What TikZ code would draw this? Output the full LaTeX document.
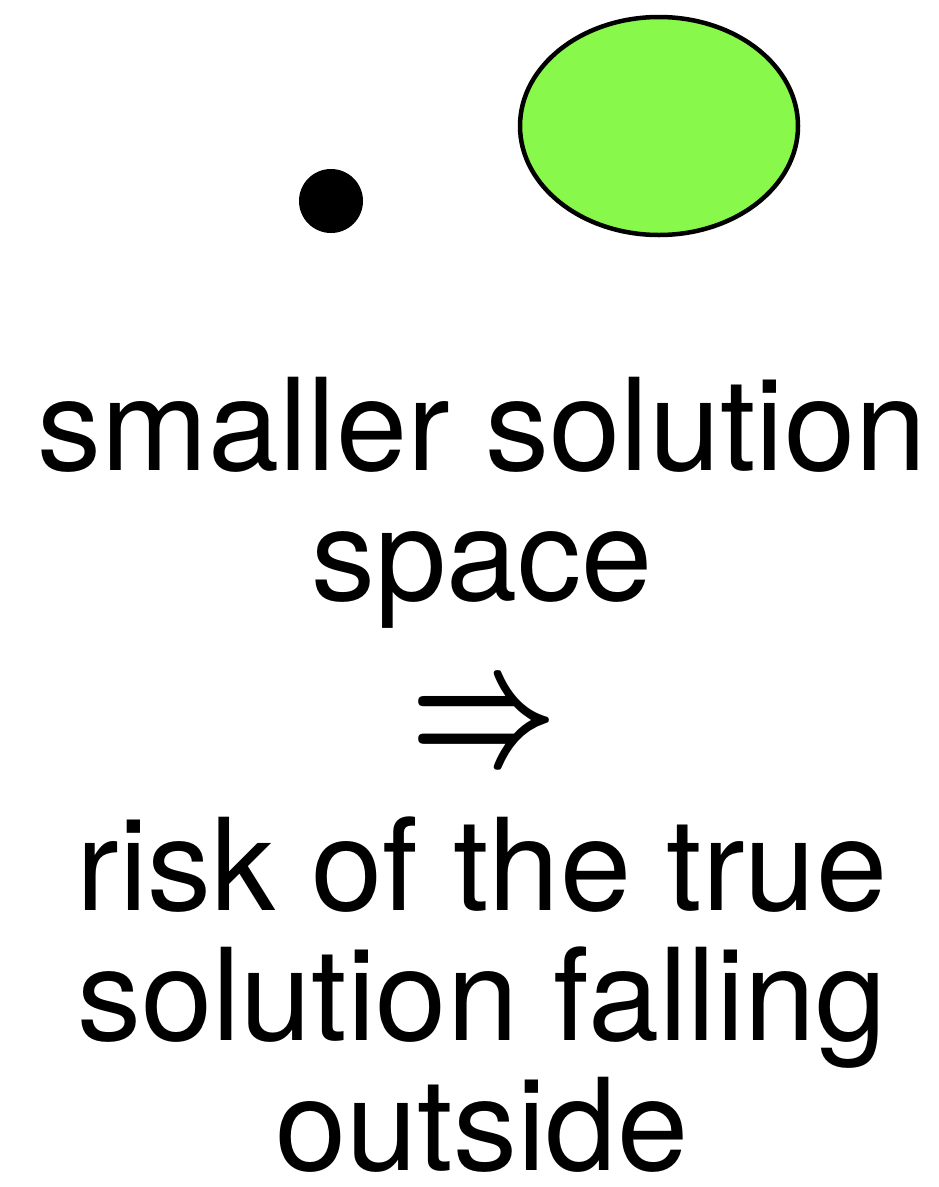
\documentclass[tikz,border=0pt]{standalone}
\usepackage{fontspec}
\setmainfont{TeX Gyre Heros}
\usepackage{graphicx}
\usetikzlibrary{shapes.geometric}
\definecolor{blobgreen}{RGB}{136,248,74}

\begin{document}
\begin{tikzpicture}[
    x=1pt, y=-1pt,
    dotmark/.style={circle, fill=black, inner sep=0pt, minimum size=64pt},
    blob/.style={draw, ellipse, fill=blobgreen, line width=4.5pt, inner sep=0pt, minimum width=278pt, minimum height=218pt},
    big/.style={font=\fontsize{128}{130}\selectfont, align=center, inner sep=0pt, anchor=base, text depth=0pt},
    sym/.style={inner sep=0pt},
  ]
    \useasboundingbox (0,0) rectangle (938,1187);
    % ===== shapes =====
    \node[dotmark] (pt)     at (331,201) {};
    \node[blob]    (region) at (659,126) {};
    % ===== text (base = last line) =====
    \node[big] (upper)   at (482,600) {smaller solution\\space};
    \node[sym] (implies) at (484,730) {\scalebox{12.8}[16.8]{\boldmath$\Rightarrow$}};
    \node[big] (lower)   at (482,1170) {risk of the true\\solution falling\\outside};
\end{tikzpicture}
\end{document}
